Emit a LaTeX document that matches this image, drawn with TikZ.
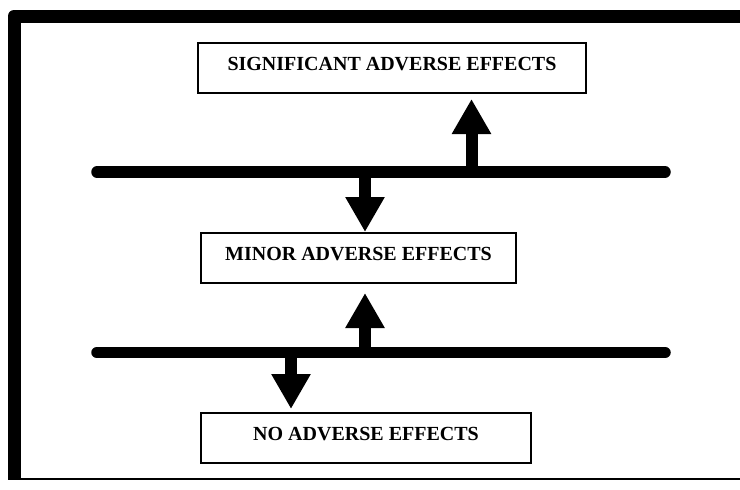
\documentclass[tikz,border=0pt]{standalone}
\usepackage{fontspec}
\setmainfont{Liberation Serif}
\usepackage{tikz}
\usetikzlibrary{arrows.meta}

\tikzset{
  effectbox/.style={draw, line width=2pt, minimum height=50pt, inner sep=0pt,
    text height=16pt, text depth=11.8pt, font=\fontsize{20}{24}\bfseries},
  levelbar/.style={line width=11.5pt, line cap=round},
  fatarrow/.style={line width=12pt, -{Triangle[width=37pt,length=35pt]}}
}

\begin{document}
\begin{tikzpicture}[x=1pt,y=-1pt]
      \useasboundingbox (0,0) rectangle (740,490);
      \draw[line width=13pt, line join=round] (740,16) -- (14,16) -- (14,480);
      \draw[line width=1.5pt] (14,479) -- (740,479);

      \node[effectbox, minimum width=388pt] (sig) at (392,68) {SIGNIFICANT ADVERSE EFFECTS};
      \node[effectbox, minimum width=315pt] (minor) at (358.5,258) {MINOR ADVERSE EFFECTS};
      \node[effectbox, minimum width=330pt] (none) at (366,438) {NO ADVERSE EFFECTS};

      \coordinate (bar1w) at (97,172);
      \coordinate (bar1e) at (665,172);
      \coordinate (bar2w) at (97,352.5);
      \coordinate (bar2e) at (665,352.5);

      \draw[fatarrow, shorten >=5pt] (471.5,172) coordinate (up1) -- (up1 |- sig.south);
      \draw[fatarrow] (365,172) coordinate (down1) -- (down1 |- minor.north);
      \draw[fatarrow, shorten >=9pt] (365,352.5) coordinate (up2) -- (up2 |- minor.south);
      \draw[fatarrow, shorten >=3pt] (291,352.5) coordinate (down2) -- (down2 |- none.north);

      \draw[levelbar] (bar1w) -- (bar1e);
      \draw[levelbar] (bar2w) -- (bar2e);
    \end{tikzpicture}
\end{document}
